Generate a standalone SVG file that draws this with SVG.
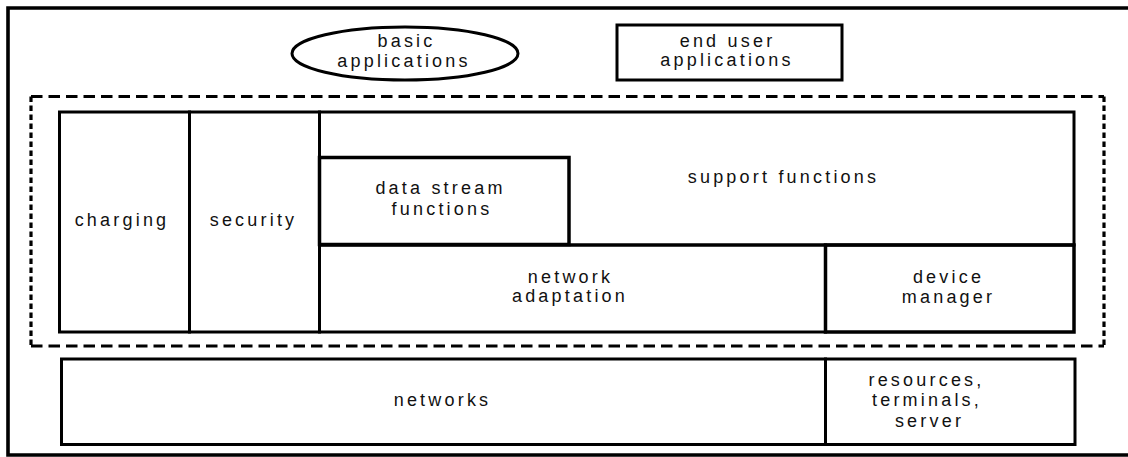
<svg xmlns="http://www.w3.org/2000/svg" width="1128" height="457" viewBox="0 0 1128 457">
<style>
  .box { fill: none; stroke: #000; stroke-width: 3; }
  .thick { fill: none; stroke: #000; stroke-width: 3.5; }
  .lbl { font-family: "Liberation Sans", Arial, sans-serif; font-size: 18px; letter-spacing: 3.2px; fill: #111; text-anchor: middle; }
  .dh { stroke: #000; stroke-width: 3.2; stroke-dasharray: 11.5 6; fill: none; }
  .dv { stroke: #000; stroke-width: 3.2; stroke-dasharray: 5.5 3.5; fill: none; }
</style>
<rect width="1128" height="457" fill="#fff"/>
<g id="frame">
  <path d="M1135 8 H8 V455 H1135" fill="none" stroke="#000" stroke-width="3.6"/>
</g>
<g id="basic-applications">
  <ellipse cx="405" cy="53.5" rx="113" ry="26.5" class="box"/>
  <text class="lbl" x="406.5" y="47">basic</text>
  <text class="lbl" x="404" y="67">applications</text>
</g>
<g id="end-user-applications">
  <rect x="617" y="25" width="225" height="55" class="box"/>
  <text class="lbl" x="727.5" y="46.5">end user</text>
  <text class="lbl" x="727" y="66">applications</text>
</g>
<g id="platform-boundary">
  <line x1="31" y1="96.5" x2="1104" y2="96.5" class="dh"/>
  <line x1="31" y1="346" x2="1104" y2="346" class="dh"/>
  <line x1="31" y1="96.5" x2="31" y2="346" class="dv"/>
  <line x1="1104" y1="96.5" x2="1104" y2="346" class="dv"/>
</g>
<g id="charging">
  <rect x="59.5" y="112" width="130" height="220" class="box"/>
  <text class="lbl" x="122" y="226">charging</text>
</g>
<g id="security">
  <rect x="189.5" y="112" width="130" height="220" class="box"/>
  <text class="lbl" x="253.5" y="226">security</text>
</g>
<g id="support-functions">
  <rect x="319.5" y="112" width="754.5" height="133" class="box"/>
  <text class="lbl" x="783.5" y="183">support functions</text>
</g>
<g id="data-stream-functions">
  <rect x="319.5" y="157.5" width="249.5" height="87" class="thick"/>
  <text class="lbl" x="440.5" y="194">data stream</text>
  <text class="lbl" x="442" y="215">functions</text>
</g>
<g id="network-adaptation">
  <rect x="319.5" y="245" width="506" height="87" class="box"/>
  <text class="lbl" x="570.5" y="282.5">network</text>
  <text class="lbl" x="570" y="302">adaptation</text>
</g>
<g id="device-manager">
  <rect x="825.5" y="245" width="248.5" height="87" class="thick"/>
  <text class="lbl" x="948.5" y="283">device</text>
  <text class="lbl" x="948.5" y="302.5">manager</text>
</g>
<g id="networks">
  <rect x="61.5" y="359" width="764" height="85.5" class="box"/>
  <text class="lbl" x="442.5" y="406">networks</text>
</g>
<g id="resources-terminals-server">
  <rect x="825.5" y="359" width="249.5" height="85.5" class="box"/>
  <text class="lbl" x="926.5" y="386">resources,</text>
  <text class="lbl" x="927" y="406">terminals,</text>
  <text class="lbl" x="929.5" y="426.5">server</text>
</g>
<g id="connectors"></g>
</svg>
